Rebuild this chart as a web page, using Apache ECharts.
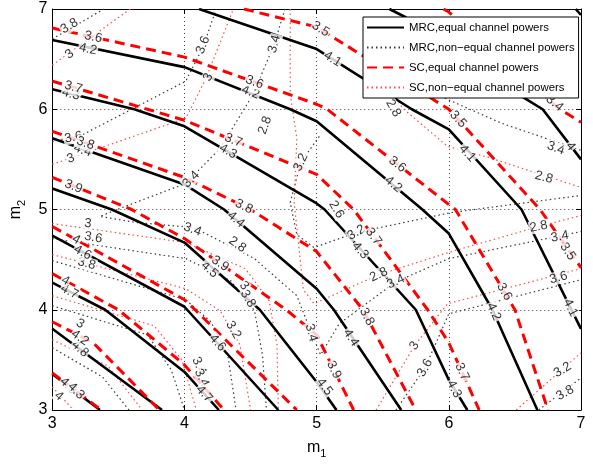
<!DOCTYPE html>
<html><head><meta charset="utf-8">
<script src="https://cdn.jsdelivr.net/npm/echarts@6/dist/echarts.min.js"></script>
<style>html,body{margin:0;padding:0;background:#fff}#c{width:593px;height:464px}</style>
</head><body><div id="c"></div>
<script>
const FONT = "'Liberation Sans', Arial, Helvetica, sans-serif";
const xTicks = [3, 4, 5, 6, 7];
const yTicks = [3, 4, 5, 6, 7];
const legendNames = ['MRC,equal channel powers', 'MRC,non\u2212equal channel powers', 'SC,equal channel powers', 'SC,non\u2212equal channel powers'];

// MRC, equal channel powers (solid black) — contour polylines [m1, m2]
const mrcEq39 = [[6.96,7],[7,6.94]];
const mrcEq40 = [[5.55,7],[5.67,6.92],[6.56,6.12],[6.71,6.0],[7,5.50]];
const mrcEq41 = [[4.11,7],[5.0,6.60],[5.72,6.0],[6.0,5.80],[6.55,5.0],[7,3.81]];
const mrcEq42 = [[3,6.69],[4,6.42],[4.8,6.0],[5,5.88],[5.8,5.0],[6,4.76],[6.33,4.0],[6.67,3]];
const mrcEq43 = [[3,6.2],[3.62,6.0],[4,5.83],[5,5.06],[5.06,5.0],[5.75,4.0],[6,3.3],[6.14,3]];
const mrcEq44 = [[3,5.71],[4,5.25],[4.3,5.0],[5,4.21],[5.13,4.0],[5.64,3]];
const mrcEq45 = [[3,5.21],[3.45,5.0],[4,4.67],[4.57,4.0],[5,3.28],[5.15,3]];
const mrcEq46 = [[3,4.74],[4,4.03],[4.02,4.0],[4.71,3]];
const mrcEq47 = [[3,4.27],[3.4,4.0],[4,3.38],[4.26,3]];
const mrcEq48 = [[3,3.81],[3.83,3]];
const mrcEq49 = [[3,3.36],[3.36,3]];

// SC, equal channel powers (dashed red)
const scEq34 = [[5.96,7],[6.0,6.97],[6.84,6.0],[7,5.87]];
const scEq35 = [[4.45,7],[5.0,6.82],[6.0,6.0],[6.69,5.0],[7,4.42]];
const scEq36 = [[3,6.81],[4,6.52],[5,6.05],[5.08,6.0],[6,5.05],[6.05,5.0],[6.5,4.0],[6.75,3]];
const scEq37 = [[3,6.28],[3.72,6.0],[4,5.89],[5,5.35],[5.28,5.0],[5.84,4.0],[6,3.67],[6.23,3]];
const scEq38 = [[3,5.78],[4,5.32],[4.5,5.0],[5,4.58],[5.35,4.0],[5.75,3]];
const scEq39 = [[3,5.32],[3.6,5.0],[4,4.71],[4.77,4.0],[5,3.75],[5.28,3]];
const scEq40 = [[3,4.83],[4,4.1],[4.08,4.0],[4.85,3]];
const scEq41 = [[3,4.36],[3.5,4.0],[4,3.45],[4.3,3]];
const scEq42 = [[3,3.88],[3.31,3.67],[3.81,3]];
const scEq43 = [[3,3.37],[3.37,3]];

// MRC, non-equal channel powers (dotted black)
const mrcNe1 = [[3,6.70],[3.39,7]];
const mrcNe2 = [[3,5.68],[3.22,5.74],[4.01,6.28],[4.14,6.62],[4.24,7]];
const mrcNe3 = [[4.76,7],[4.68,6.65],[4.52,6.15],[4.27,5.61],[4.01,5.26],[3.47,4.99],[3.36,4.93],[3.64,4.87],[4.07,4.82],[4.53,4.51],[4.85,4.14],[4.96,3.77],[5.03,3.55],[5.17,3.86],[5.60,4.28],[6.0,4.51],[7,4.78]];
const mrcNe4 = [[5.80,6.50],[5.97,6.11],[6.40,5.86],[7,5.59]];
const mrcNe5 = [[5.02,5.73],[4.88,5.47],[4.80,5.07],[4.85,4.75],[4.98,4.62],[5.30,4.77],[6.02,4.97],[7,5.14]];
const mrcNe6 = [[5.60,3],[5.82,3.42],[6.0,3.96],[7,4.30]];
const mrcNe7 = [[6.68,3],[7,3.32]];
const mrcNe8 = [[3,4.71],[4.01,4.51],[4.35,4.29],[4.53,3.99],[4.59,3.55],[4.62,3]];
const mrcNe9 = [[3,4.49],[4.01,4.10],[4.20,3.88],[4.33,3.53],[4.39,3]];
const mrcNe10 = [[3,4.04],[3.72,3.75],[3.90,3.40],[4.00,3]];
const mrcNe11 = [[3,3.62],[3.38,3.33],[3.58,3]];

// SC, non-equal channel powers (dotted red)
const scNe1 = [[3,6.44],[3.59,7]];
const scNe2 = [[3,5.45],[4.01,5.91],[4.16,6.30],[4.37,7]];
const scNe3 = [[4.80,7],[4.80,6.15],[4.85,5.71],[4.83,5.07],[4.90,4.2],[4.98,4.06],[5.47,4.35],[6.02,4.58],[6.68,4.83],[7,4.94]];
const scNe4 = [[5.43,6.50],[5.65,6.01],[5.99,5.63],[6.30,5.52],[7,5.22]];
const scNe5 = [[5.45,3],[5.74,3.64],[5.99,4.06],[7,4.41]];
const scNe6 = [[6.51,3],[7,3.57]];
const scNe7 = [[3,4.86],[4.01,4.67],[4.46,4.41],[4.64,4.09],[4.70,3.65],[4.71,3]];
const scNe8 = [[3,4.55],[4.01,4.21],[4.27,3.99],[4.42,3.65],[4.50,3]];
const scNe9 = [[3,4.14],[3.77,3.84],[3.98,3.50],[4.09,3]];
const scNe10 = [[3,3.70],[3.42,3.44],[3.68,3]];
const scNe11 = [[3,3.23],[3.16,3]];

const mrcEqLines = [mrcEq39, mrcEq40, mrcEq41, mrcEq42, mrcEq43, mrcEq44, mrcEq45, mrcEq46, mrcEq47, mrcEq48, mrcEq49];
const mrcNeLines = [mrcNe1, mrcNe2, mrcNe3, mrcNe4, mrcNe5, mrcNe6, mrcNe7, mrcNe8, mrcNe9, mrcNe10, mrcNe11];
const scEqLines = [scEq34, scEq35, scEq36, scEq37, scEq38, scEq39, scEq40, scEq41, scEq42, scEq43];
const scNeLines = [scNe1, scNe2, scNe3, scNe4, scNe5, scNe6, scNe7, scNe8, scNe9, scNe10, scNe11];

// contour labels: [m1, m2, text, angle]
const eqLabels = [
 [3.27,6.60,'4.2',-12],[3.14,6.15,'4.3',-14],[3.23,5.59,'4.4',-19],[4.50,6.17,'4.2',-22],[4.33,5.58,'4.3',-30],
 [5.12,6.50,'4.1',-32],[5.58,5.25,'4.2',-40],[6.14,5.56,'4.1',-48],[4.39,4.90,'4.4',-40],[4.19,4.40,'4.5',-42],
 [5.33,4.59,'4.3',-48],[5.26,3.72,'4.4',-56],[5.06,3.23,'4.5',-52],[3.23,4.57,'4.6',-28],[3.13,4.18,'4.7',-27],
 [3.21,3.61,'4.8',-42],[3.12,3.24,'4.9',-45],[4.25,3.67,'4.6',-48],[4.15,3.16,'4.7',-48],[6.34,3.98,'4.2',-66],
 [6.04,3.21,'4.3',-62],[6.92,4.02,'4.1',-63],[6.92,5.63,'4',-52],
 [3.31,6.72,'3.6',-12],[3.16,6.22,'3.7',-16],[3.25,5.66,'3.8',-19],[3.16,5.23,'3.9',-22],[4.53,6.27,'3.6',-20],
 [4.37,5.69,'3.7',-22],[4.45,5.03,'3.8',-26],[4.27,4.46,'3.9',-35],[5.03,6.80,'3.5',-32],[5.61,5.45,'3.6',-38],
 [6.07,5.90,'3.5',-48],[5.43,4.73,'3.7',-54],[5.38,3.93,'3.8',-62],[5.13,3.40,'3.9',-64],[6.42,4.18,'3.6',-60],
 [6.10,3.38,'3.7',-65],[6.90,4.58,'3.5',-56],[3.18,4.70,'4',-29],[3.10,4.29,'4',-30],[3.21,3.72,'4.2',-35],
 [3.18,3.19,'4.3',-45],[6.80,6.06,'3.4',-40]
];
const neLabels = [
 [3.13,6.83,'3.8',31],[3.13,6.55,'3',36],[3.16,5.72,'3.6',10],[4.14,6.64,'3.6',68],[3.14,5.51,'3',19],
 [4.18,6.32,'3',63],[4.05,5.30,'3.4',45],[4.68,6.65,'3.4',75],[4.61,5.84,'2.8',70],[4.88,5.47,'3.2',65],
 [5.15,5.0,'2.6',-60],[5.58,6.01,'2.8',-60],[6.81,5.61,'3.4',-20],[6.72,5.32,'2.8',-15],[4.06,4.80,'3.4',-20],
 [4.40,4.65,'2.8',-35],[4.45,4.24,'3',-50],[4.48,4.11,'3.8',-60],[4.96,3.77,'3.4',-75],[5.30,4.77,'3.2',30],
 [5.47,4.35,'2.8',25],[5.60,4.28,'3.4',25],[5.74,3.64,'3',55],[5.82,3.42,'3.6',60],[6.68,4.83,'2.8',10],
 [6.84,4.73,'3.4',10],[6.83,4.32,'3.6',15],[6.86,3.40,'3.2',30],[6.88,3.17,'3.8',30],[3.27,4.86,'3',-5],
 [3.31,4.72,'3.6',-10],[3.26,4.46,'3.8',-15],[3.21,3.86,'3',-30],[3.05,3.14,'4',-40],[4.37,3.80,'3.2',-60],
 [4.11,3.44,'3.4',-65],[4.13,3.32,'3.4',-65]
];

const styles = [
  {color:'#000000', width:2.6, type:'solid'},
  {color:'#3a3a3a', width:1.2, type:[1.5,3]},
  {color:'#ff0000', width:3, type:[10,6]},
  {color:'#ff4a4a', width:1.2, type:[1.5,3]}
];
const groups = [mrcEqLines, mrcNeLines, scEqLines, scNeLines];
const order = [1, 3, 0, 2];

const series = [];
order.forEach(gi => {
  groups[gi].forEach(d => {
    series.push({
      type:'line', name: legendNames[gi], data: d, symbol:'none', showSymbol:false,
      lineStyle: styles[gi], itemStyle:{color: styles[gi].color}, silent:true,
      animation:false, z: 2, clip:true
    });
  });
});
function labelSeries(arr){
  return {
    type:'scatter', silent:true, animation:false, z:3, symbolSize:1,
    itemStyle:{color:'rgba(0,0,0,0)'},
    data: arr.map(a => ({value:[a[0],a[1]], name:a[2], label:{rotate:a[3]}})),
    label:{show:true, position:'inside', formatter: p => p.name, color:'#000', fontSize:13,
      fontFamily: FONT, align:'center', verticalAlign:'middle', backgroundColor:'#fff', padding:[0,1]},
    labelLayout:{hideOverlap:false}
  };
}
series.push(labelSeries(neLabels));
series.push(labelSeries(eqLabels));

const axisCommon = {type:'value', min:3, max:7, interval:1};
const chart = echarts.init(document.getElementById('c'), null, {renderer:'canvas'});
chart.setOption({
  animation:false,
  backgroundColor:'#fff',
  grid:{left:44, right:12, top:9, bottom:48, show:false},
  legend:{
    data: legendNames.map(n => ({name:n})), orient:'vertical', left:363, top:17,
    padding:[5,4,5,3], itemGap:9, itemWidth:37, itemHeight:10,
    itemStyle:{opacity:0},
    backgroundColor:'#fff', borderColor:'#000', borderWidth:1, borderRadius:0,
    textStyle:{color:'#000', fontSize:11.4, fontFamily:FONT}, selectedMode:false, z:10
  },
  xAxis:[
    Object.assign({}, axisCommon, {position:'bottom',
      axisLine:{show:true, onZero:false, lineStyle:{color:'#000', width:1}},
      axisTick:{show:true, inside:true, length:5, lineStyle:{color:'#000'}},
      axisLabel:{show:true, color:'#000', fontSize:16, fontFamily:FONT, margin:6, formatter: v => xTicks.includes(v) ? String(v) : ''},
      splitLine:{show:true, lineStyle:{color:'#444', width:1, type:[1,3]}},
      name:'{a|m}{b|1}', nameLocation:'middle', nameGap:26,
      nameTextStyle:{color:'#000', fontFamily:FONT, rich:{a:{fontSize:16, fontFamily:FONT, color:'#000'}, b:{fontSize:11, fontFamily:FONT, color:'#000', padding:[12,0,0,0]}}}
    }),
    Object.assign({}, axisCommon, {position:'top',
      axisLine:{show:true, onZero:false, lineStyle:{color:'#000', width:1}},
      axisTick:{show:true, inside:true, length:5, lineStyle:{color:'#000'}},
      axisLabel:{show:false}, splitLine:{show:false}})
  ],
  yAxis:[
    Object.assign({}, axisCommon, {position:'left',
      axisLine:{show:true, onZero:false, lineStyle:{color:'#000', width:1}},
      axisTick:{show:true, inside:true, length:5, lineStyle:{color:'#000'}},
      axisLabel:{show:true, color:'#000', fontSize:16, fontFamily:FONT, margin:5, formatter: v => yTicks.includes(v) ? String(v) : ''},
      splitLine:{show:true, lineStyle:{color:'#444', width:1, type:[1,3]}},
      name:'{a|m}{b|2}', nameLocation:'middle', nameGap:14,
      nameTextStyle:{color:'#000', fontFamily:FONT, rich:{a:{fontSize:16, fontFamily:FONT, color:'#000'}, b:{fontSize:11, fontFamily:FONT, color:'#000', padding:[12,0,0,0]}}}
    }),
    Object.assign({}, axisCommon, {position:'right',
      axisLine:{show:true, onZero:false, lineStyle:{color:'#000', width:1}},
      axisTick:{show:true, inside:true, length:5, lineStyle:{color:'#000'}},
      axisLabel:{show:false}, splitLine:{show:false}})
  ],
  series: series
});
</script>
</body></html>
